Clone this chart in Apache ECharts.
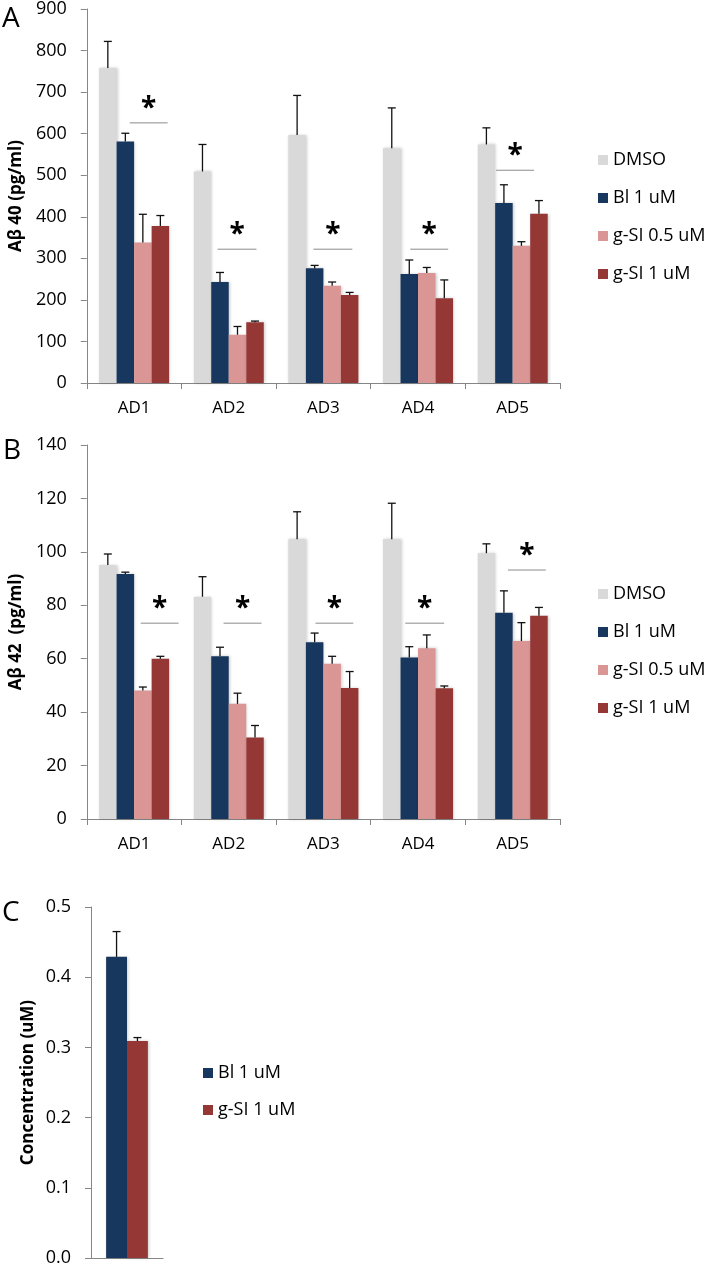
<!DOCTYPE html>
<html><head><meta charset="utf-8">
<script src="https://cdn.jsdelivr.net/npm/echarts@6/dist/echarts.min.js"></script>
<style>html,body{margin:0;padding:0;background:#fff}#c{width:706px;height:1275px}</style>
</head><body><div id="c"></div>
<script>
// ---------- data ----------
const categories = ['AD1', 'AD2', 'AD3', 'AD4', 'AD5'];
const seriesNames = ['DMSO', 'Bl 1 uM', 'g-SI 0.5 uM', 'g-SI 1 uM'];

// Panel A: Aβ40 (pg/ml)
const a40_DMSO      = [758, 509, 597, 565, 574];
const a40_DMSO_err  = [64, 65, 95, 97, 40];
const a40_Bl        = [581, 243, 276, 262, 433];
const a40_Bl_err    = [20, 23, 7, 34, 44];
const a40_gSI05     = [338, 116, 234, 265, 330];
const a40_gSI05_err = [68, 20, 9, 13, 10];
const a40_gSI1      = [378, 146, 212, 204, 407];
const a40_gSI1_err  = [25, 3, 6, 44, 32];
// significance bars: [start, end (category units), level]
const a40_sig = [[0.454, 0.854, 626], [1.382, 1.793, 322], [2.395, 2.806, 322], [3.418, 3.819, 322], [4.325, 4.726, 512]];

// Panel B: Aβ42 (pg/ml)
const a42_DMSO      = [95.1, 83.2, 104.7, 104.7, 99.5];
const a42_DMSO_err  = [4.1, 7.5, 10.3, 13.5, 3.5];
const a42_Bl        = [91.7, 60.9, 66.2, 60.5, 77.2];
const a42_Bl_err    = [0.7, 3.4, 3.4, 4.0, 8.2];
const a42_gSI05     = [48.1, 43.1, 58.1, 63.9, 66.6];
const a42_gSI05_err = [1.3, 4.0, 2.8, 5.0, 6.9];
const a42_gSI1      = [60.0, 30.5, 49.0, 48.9, 76.1];
const a42_gSI1_err  = [0.9, 4.5, 6.2, 0.9, 3.1];
const a42_sig = [[0.570, 0.970, 73.3], [1.445, 1.846, 73.3], [2.416, 2.816, 73.3], [3.365, 3.776, 73.3], [4.45, 4.85, 93.2]];

// Panel C: concentration (uM)
const concCategories = [''];
const conc_Bl       = [0.429];
const conc_Bl_err   = [0.036];
const conc_gSI1     = [0.309];
const conc_gSI1_err = [0.005];

// ---------- style ----------
const colors = ['#d9d9d9', '#17375e', '#d99694', '#953735'];
const FONT = '"Open Sans", "DejaVu Sans", sans-serif';
const AXIS_GRAY = '#868686';
const GAP_ABC = [0.26, 0.26, 0.42];

function errRender(nBars, slot, gapFrac) {
  return function (params, api) {
    const cat = api.value(0), v = api.value(1), e = api.value(2);
    const base = api.coord([cat, v]);
    const top = api.coord([cat, v + e]);
    const band = api.size([1, 0])[0];
    const bw = band * (1 - gapFrac) / nBars;
    const x = base[0] + (slot - (nBars - 1) / 2) * bw;
    const st = { stroke: '#111', lineWidth: 1.3 };
    return { type: 'group', children: [
      { type: 'line', shape: { x1: x, y1: base[1], x2: x, y2: top[1] }, style: st },
      { type: 'line', shape: { x1: x - 4, y1: top[1], x2: x + 4, y2: top[1] }, style: st }
    ]};
  };
}
function sigRender(params, api) {
  const p1 = api.coord([api.value(0), api.value(2)]);
  const p2 = api.coord([api.value(1), api.value(2)]);
  return { type: 'group', children: [
    { type: 'line', shape: { x1: p1[0], y1: p1[1], x2: p2[0], y2: p2[1] }, style: { stroke: '#8c8c8c', lineWidth: 1 } },
    { type: 'text', x: (p1[0] + p2[0]) / 2, y: p1[1] - 14, style: { text: '*', fill: '#000', font: 'bold 28px ' + FONT, align: 'center', verticalAlign: 'middle' } }
  ]};
}

function barSeries(name, data, ci, xIdx, yIdx, gap) {
  return { name: name, type: 'bar', xAxisIndex: xIdx, yAxisIndex: yIdx, data: data,
    barGap: '0%', barCategoryGap: (gap * 100) + '%',
    itemStyle: { color: colors[ci], shadowColor: 'rgba(0,0,0,0.2)', shadowBlur: 3, shadowOffsetX: 1 } };
}
function errSeries(vals, errs, n, slot, xIdx, yIdx, gap) {
  return { type: 'custom', name: 'err', xAxisIndex: xIdx, yAxisIndex: yIdx, z: 5,
    renderItem: errRender(n, slot, gap), silent: true,
    data: vals.map((v, i) => [i, v, errs[i]]), encode: { x: 0, y: 1 } };
}
function sigSeries(sig, xIdx, yIdx) {
  return { type: 'custom', name: 'sig', xAxisIndex: xIdx, yAxisIndex: yIdx, z: 6, silent: true,
    renderItem: sigRender, data: sig, encode: { x: [0, 1], y: 2 } };
}

const catAxis = (grid, cats, showTicks) => ({
  type: 'category', gridIndex: grid, data: cats,
  axisLine: { lineStyle: { color: AXIS_GRAY, width: 1 } },
  axisTick: { show: showTicks, length: 6, lineStyle: { color: AXIS_GRAY } },
  axisLabel: { color: '#000', fontFamily: FONT, fontSize: 17, margin: 17 }
});
const hiddenX = (grid) => ({ type: 'value', gridIndex: grid, min: 0, max: 5, show: false });
const valAxis = (grid, max, interval, name, nameGap, fmt) => ({
  type: 'value', gridIndex: grid, min: 0, max: max, interval: interval,
  name: name, nameLocation: 'middle', nameGap: nameGap,
  nameTextStyle: { fontFamily: FONT, fontSize: 17, fontWeight: 'bold', color: '#000' },
  axisLine: { show: true, lineStyle: { color: AXIS_GRAY, width: 1 } },
  axisTick: { show: true, length: 6, lineStyle: { color: AXIS_GRAY } },
  splitLine: { show: false },
  axisLabel: { color: '#000', fontFamily: FONT, fontSize: 18, margin: 20, formatter: fmt }
});
const legend = (names, left, top, gap) => ({
  data: names, orient: 'vertical', left: left, top: top, icon: 'rect',
  itemWidth: 10, itemHeight: 10, itemGap: gap, selectedMode: false,
  textStyle: { fontFamily: FONT, fontSize: 18, color: '#000', lineHeight: 24 }
});

const option = {
  animation: false,
  grid: [
    { left: 86, top: 9, width: 474, height: 374 },
    { left: 86, top: 445, width: 474, height: 374 },
    { left: 91, top: 907, width: 72, height: 360 }
  ],
  xAxis: [catAxis(0, categories, true), hiddenX(0), catAxis(1, categories, true), hiddenX(1), catAxis(2, concCategories, false)],
  yAxis: [
    valAxis(0, 900, 100, 'Aβ 40 (pg/ml)', 59),
    valAxis(1, 140, 20, 'Aβ 42  (pg/ml)', 59),
    valAxis(2, 0.5, 0.1, 'Concentration (uM)', 54, v => v.toFixed(1))
  ],
  legend: [
    legend(seriesNames, 593, 143, 14),
    legend(seriesNames, 593, 577, 14),
    legend(['Bl 1 uM', 'g-SI 1 uM'], 198, 1056, 13)
  ],
  graphic: [
    { type: 'text', left: 2, top: 5, style: { text: 'A', font: '28px ' + FONT, fill: '#000' } },
    { type: 'text', left: 3, top: 437, style: { text: 'B', font: '28px ' + FONT, fill: '#000' } },
    { type: 'text', left: 2, top: 899, style: { text: 'C', font: '28px ' + FONT, fill: '#000' } }
  ],
  series: [
    barSeries(seriesNames[0], a40_DMSO, 0, 0, 0, GAP_ABC[0]),
    barSeries(seriesNames[1], a40_Bl, 1, 0, 0, GAP_ABC[0]),
    barSeries(seriesNames[2], a40_gSI05, 2, 0, 0, GAP_ABC[0]),
    barSeries(seriesNames[3], a40_gSI1, 3, 0, 0, GAP_ABC[0]),
    errSeries(a40_DMSO, a40_DMSO_err, 4, 0, 0, 0, GAP_ABC[0]),
    errSeries(a40_Bl, a40_Bl_err, 4, 1, 0, 0, GAP_ABC[0]),
    errSeries(a40_gSI05, a40_gSI05_err, 4, 2, 0, 0, GAP_ABC[0]),
    errSeries(a40_gSI1, a40_gSI1_err, 4, 3, 0, 0, GAP_ABC[0]),
    sigSeries(a40_sig, 1, 0),

    barSeries(seriesNames[0], a42_DMSO, 0, 2, 1, GAP_ABC[1]),
    barSeries(seriesNames[1], a42_Bl, 1, 2, 1, GAP_ABC[1]),
    barSeries(seriesNames[2], a42_gSI05, 2, 2, 1, GAP_ABC[1]),
    barSeries(seriesNames[3], a42_gSI1, 3, 2, 1, GAP_ABC[1]),
    errSeries(a42_DMSO, a42_DMSO_err, 4, 0, 2, 1, GAP_ABC[1]),
    errSeries(a42_Bl, a42_Bl_err, 4, 1, 2, 1, GAP_ABC[1]),
    errSeries(a42_gSI05, a42_gSI05_err, 4, 2, 2, 1, GAP_ABC[1]),
    errSeries(a42_gSI1, a42_gSI1_err, 4, 3, 2, 1, GAP_ABC[1]),
    sigSeries(a42_sig, 3, 1),

    barSeries(seriesNames[1], conc_Bl, 1, 4, 2, GAP_ABC[2]),
    barSeries(seriesNames[3], conc_gSI1, 3, 4, 2, GAP_ABC[2]),
    errSeries(conc_Bl, conc_Bl_err, 2, 0, 4, 2, GAP_ABC[2]),
    errSeries(conc_gSI1, conc_gSI1_err, 2, 1, 4, 2, GAP_ABC[2])
  ]
};
const chart = echarts.init(document.getElementById('c'), null, { renderer: 'canvas' });
chart.setOption(option);
</script>
</body></html>
